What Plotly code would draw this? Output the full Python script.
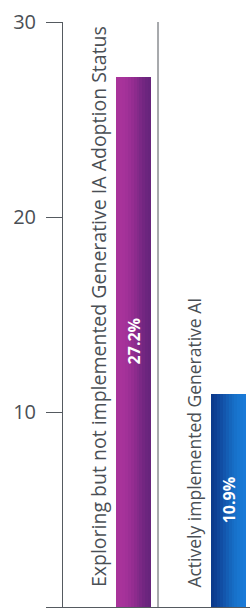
import plotly.graph_objects as go

categories = ["Exploring but not implemented Generative IA Adoption Status",
              "Actively implemented Generative AI"]
values = [27.2, 10.9]
value_labels = ["27.2%", "10.9%"]
tick_vals = [0, 10, 20, 30]
label_sizes = [19.5, 17.5]

gradients = [
    ["#a9339a", "#a8339a", "#a6329a", "#a23198", "#9c2f95", "#952d91", "#8d2b8d", "#842a89", "#7b2885", "#732681", "#6c257e", "#68247c"],
    ["#0b3a8c", "#0d3f93", "#0f469b", "#114ea4", "#1356ad", "#145eb5", "#1566bd", "#166cc4", "#1771ca", "#1875cf", "#1978d4", "#1a7ad8"],
]

BAR_OFF = 0.058
BAR_W = 0.37
N = len(gradients[0])

fig = go.Figure()
for ci, (cat, val) in enumerate(zip(categories, values)):
    cols = gradients[ci]
    for k in range(N):
        off = BAR_OFF + BAR_W * k / N
        fig.add_trace(go.Bar(
            x=[cat], y=[val], width=BAR_OFF + BAR_W - off, offset=off,
            marker=dict(color=cols[k], line=dict(width=0)),
            hoverinfo="skip", showlegend=False,
        ))

annotations = []
for ci, (cat, val, lab) in enumerate(zip(categories, values, value_labels)):
    annotations.append(dict(
        x=ci - 0.12, y=0.9, xref="x", yref="y", text=cat, textangle=-90,
        showarrow=False, xanchor="center", yanchor="bottom",
        font=dict(family="Open Sans", size=label_sizes[ci], color="#4a4f55"),
    ))
    annotations.append(dict(
        x=ci + BAR_OFF + BAR_W / 2, y=val / 2, xref="x", yref="y", text=f"<b>{lab}</b>",
        textangle=-90, showarrow=False, xanchor="center", yanchor="middle",
        font=dict(family="Open Sans", size=16, color="#ffffff"),
    ))

fig.update_layout(
    width=250, height=612,
    margin=dict(l=63, r=0, t=22, b=5),
    paper_bgcolor="white", plot_bgcolor="white",
    barmode="overlay", bargap=0,
    annotations=annotations,
    shapes=[dict(type="line", xref="x", yref="y", x0=0.5, x1=0.5, y0=0, y1=30,
                 line=dict(color="#a7a9ac", width=2))],
    xaxis=dict(type="category", range=[-0.5, 1.468], showticklabels=False,
               showgrid=False, zeroline=False, showline=True,
               linecolor="#555a60", linewidth=1, ticks=""),
    yaxis=dict(range=[0, 30], tickvals=tick_vals, showgrid=False, zeroline=False,
               showline=True, linecolor="#555a60", linewidth=1,
               ticks="outside", ticklen=16, tickcolor="#555a60", tickwidth=1,
               ticklabelstandoff=6,
               tickfont=dict(family="Open Sans", size=20, color="#4a4f55")),
)

fig.write_html("out.html", config={"displayModeBar": False},
               post_script="document.body.style.margin='0';document.body.style.overflow='hidden';")
